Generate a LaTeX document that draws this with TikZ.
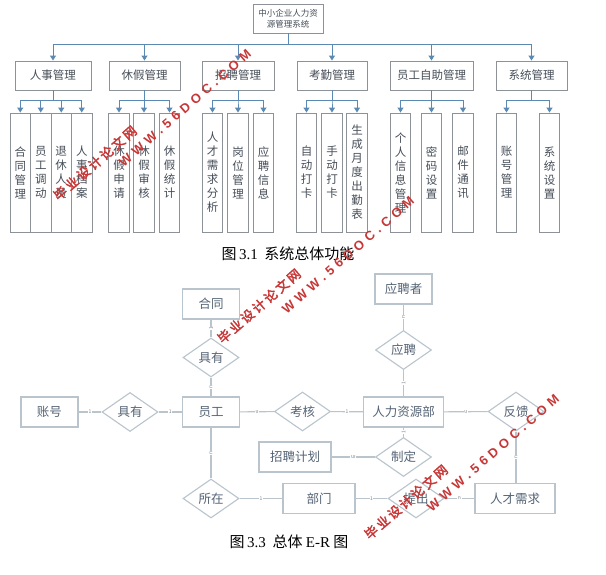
\documentclass[tikz,border=0pt]{standalone}
\usepackage{fontspec}
\setmainfont{Noto Sans CJK SC}
\newfontfamily\serf{Liberation Serif}
\newfontfamily\capcjk{Noto Sans CJK SC}
\newfontfamily\wmcn[FakeBold=2.5,LetterSpace=18]{Noto Sans CJK SC}
\newfontfamily\wmurl[LetterSpace=34]{Liberation Sans}
\usetikzlibrary{shapes.geometric,arrows.meta,calc}
\definecolor{boxline}{RGB}{140,146,152}
\definecolor{boxtext}{RGB}{70,78,88}
\definecolor{arrowc}{RGB}{90,138,180}
\definecolor{erline}{RGB}{185,196,205}
\definecolor{ertext}{RGB}{85,100,118}
\definecolor{wm}{RGB}{200,55,55}
\tikzset{
  orgbox/.style={draw=boxline,line width=0.9pt,fill=white,text=boxtext,inner sep=0,minimum height=29,font=\fontsize{11.5}{13}\selectfont},
  vbox/.style={draw=boxline,line width=0.9pt,fill=white,text=boxtext,inner sep=0,minimum width=20.5,minimum height=119,align=center,font=\fontsize{11.5}{14}\selectfont},
  orgarrow/.style={draw=arrowc,line width=1pt,-{Triangle[width=6pt,length=5pt]}},
  erbox/.style={draw=erline,line width=1.1pt,fill=white,text=ertext,minimum width=57,minimum height=30,inner sep=0,font=\fontsize{12.5}{14}\selectfont},
  erdia/.style={diamond,draw=erline,line width=1.1pt,fill=white,text=ertext,minimum width=56,minimum height=39,inner sep=0,font=\fontsize{12.5}{14}\selectfont},
  erlink/.style={draw=erline,line width=1.1pt},
  card/.style={font=\fontsize{5}{5}\selectfont,text=gray,fill=white,inner sep=0.6pt},
  capt/.style={text=black,inner sep=0,font=\fontsize{15}{17}\selectfont},
  wmark/.style={text=wm,inner sep=0,rotate=41}
}
\begin{document}
\begin{tikzpicture}[x=1pt,y=-1pt]
\useasboundingbox (0,0) rectangle (606,575);
\fill[white] (0,0) rectangle (606,575);

% ---- functional structure chart ----
\node[orgbox,minimum width=70,align=center,font=\fontsize{8.5}{11}\selectfont] (root) at (288,18.5) {中小企业人力资\\源管理系统};
\node[orgbox,minimum width=76] (hr) at (53,75.5) {人事管理};
\node[orgbox,minimum width=71] (lv) at (144.5,75.5) {休假管理};
\node[orgbox,minimum width=72] (rc) at (238,75.5) {招聘管理};
\node[orgbox,minimum width=70] (at) at (332,75.5) {考勤管理};
\node[orgbox,minimum width=83] (ss) at (431.5,75.5) {员工自助管理};
\node[orgbox,minimum width=71] (sy) at (531.5,75.5) {系统管理};
\foreach \c in {hr,lv,rc,at,ss,sy}
  \draw[orgarrow] (root.south) -- ++(0,11) -| (\c.north);

\node[vbox] (a1) at (20.25,172.5) {合\\同\\管\\理};
\node[vbox] (a2) at (40.75,172.5) {员\\工\\调\\动};
\node[vbox] (a3) at (61.25,172.5) {退\\休\\人\\员};
\node[vbox] (a4) at (81.75,172.5) {人\\事\\档\\案};
\node[vbox] (b1) at (119,172.5) {休\\假\\申\\请};
\node[vbox] (b2) at (144,172.5) {休\\假\\审\\核};
\node[vbox] (b3) at (169.5,172.5) {休\\假\\统\\计};
\node[vbox] (c1) at (212.5,172.5) {人\\才\\需\\求\\分\\析};
\node[vbox] (c2) at (238,172.5) {岗\\位\\管\\理};
\node[vbox] (c3) at (263.5,172.5) {应\\聘\\信\\息};
\node[vbox] (d1) at (306.5,172.5) {自\\动\\打\\卡};
\node[vbox] (d2) at (332,172.5) {手\\动\\打\\卡};
\node[vbox] (d3) at (357,172.5) {生\\成\\月\\度\\出\\勤\\表};
\node[vbox] (e1) at (400.5,172.5) {个\\人\\信\\息\\管\\理};
\node[vbox] (e2) at (431.5,172.5) {密\\码\\设\\置};
\node[vbox] (e3) at (463,172.5) {邮\\件\\通\\讯};
\node[vbox] (f1) at (506.5,172.5) {账\\号\\管\\理};
\node[vbox] (f2) at (549.5,172.5) {系\\统\\设\\置};
\foreach \c in {a1,a2,a3,a4} \draw[orgarrow] (hr.south) -- ++(0,10.5) -| (\c.north);
\foreach \c in {b1,b2,b3} \draw[orgarrow] (lv.south) -- ++(0,10.5) -| (\c.north);
\foreach \c in {c1,c2,c3} \draw[orgarrow] (rc.south) -- ++(0,10.5) -| (\c.north);
\foreach \c in {d1,d2,d3} \draw[orgarrow] (at.south) -- ++(0,10.5) -| (\c.north);
\foreach \c in {e1,e2,e3} \draw[orgarrow] (ss.south) -- ++(0,10.5) -| (\c.north);
\foreach \c in {f1,f2} \draw[orgarrow] (sy.south) -- ++(0,10.5) -| (\c.north);

\node[capt] (cap1) at (288,254) {{\capcjk 图}\,{\serf 3.1}\ \ {\capcjk 系统总体功能}};

% ---- E-R diagram ----
\node[erbox] (ht) at (211,304) {合同};
\node[erdia] (jy1) at (211,357.5) {具有};
\node[erbox] (yg) at (211,412) {员工};
\node[erbox] (zh) at (49.5,412) {账号};
\node[erdia] (jy2) at (130,412) {具有};
\node[erdia] (kh) at (302.5,411.5) {考核};
\node[erbox,minimum width=80] (rl) at (403.5,412) {人力资源部};
\node[erbox] (ypz) at (403.5,289) {应聘者};
\node[erdia] (yp) at (403.5,350) {应聘};
\node[erdia] (fk) at (516,411.5) {反馈};
\node[erdia] (zd) at (403.5,457) {制定};
\node[erbox,minimum width=72] (zp) at (295,457) {招聘计划};
\node[erdia] (sz) at (211,498.5) {所在};
\node[erbox,minimum width=72] (bm) at (319,498.5) {部门};
\node[erdia] (tc) at (416,498.5) {提出};
\node[erbox,minimum width=80] (rx) at (515,498.5) {人才需求};

\draw[erlink] (ht) -- node[card,rotate=90]{1} (jy1);
\draw[erlink] (jy1) -- node[card,rotate=90]{n} (yg);
\draw[erlink] (zh) -- node[card]{1} (jy2);
\draw[erlink] (jy2) -- node[card]{1} (yg);
\draw[erlink] (yg) -- node[card,rotate=180]{n} (kh);
\draw[erlink] (kh) -- node[card]{1} (rl);
\draw[erlink] (ypz) -- node[card,rotate=90]{n} (yp);
\draw[erlink] (yp) -- node[card,rotate=90]{1} (rl);
\draw[erlink] (rl) -- node[card,rotate=180]{n} (fk);
\draw[erlink] (fk.south) -- node[card,rotate=90]{n} (fk.south |- rx.north);
\draw[erlink] (rl) -- node[card,rotate=90]{1} (zd);
\draw[erlink] (zp) -- node[card,rotate=180]{m} (zd);
\draw[erlink] (yg) -- node[card,rotate=90]{n} (sz);
\draw[erlink] (sz) -- node[card]{1} (bm);
\draw[erlink] (bm) -- node[card]{1} (tc);
\draw[erlink] (tc) -- node[card]{n} (rx);

\node[capt] (cap2) at (289,542) {{\capcjk 图}\,{\serf 3.3}\ \ {\capcjk 总体}\ {\serf E-R}\ {\capcjk 图}};

% ---- watermarks ----
\node[wmark,font=\fontsize{13}{13}\selectfont] (wm1a) at (95,163) {\wmcn 毕业设计论文网};
\node[wmark,font=\fontsize{13}{13}\selectfont] (wm1b) at (185,108) {\wmurl\bfseries WWW.56DOC.COM};
\node[wmark,font=\fontsize{13}{13}\selectfont] (wm2a) at (259,306) {\wmcn 毕业设计论文网};
\node[wmark,font=\fontsize{13}{13}\selectfont] (wm2b) at (348,255) {\wmurl\bfseries WWW.56DOC.COM};
\node[wmark,font=\fontsize{13}{13}\selectfont] (wm3a) at (406,502) {\wmcn 毕业设计论文网};
\node[wmark,font=\fontsize{13}{13}\selectfont] (wm3b) at (493,453) {\wmurl\bfseries WWW.56DOC.COM};
\end{tikzpicture}
\end{document}
